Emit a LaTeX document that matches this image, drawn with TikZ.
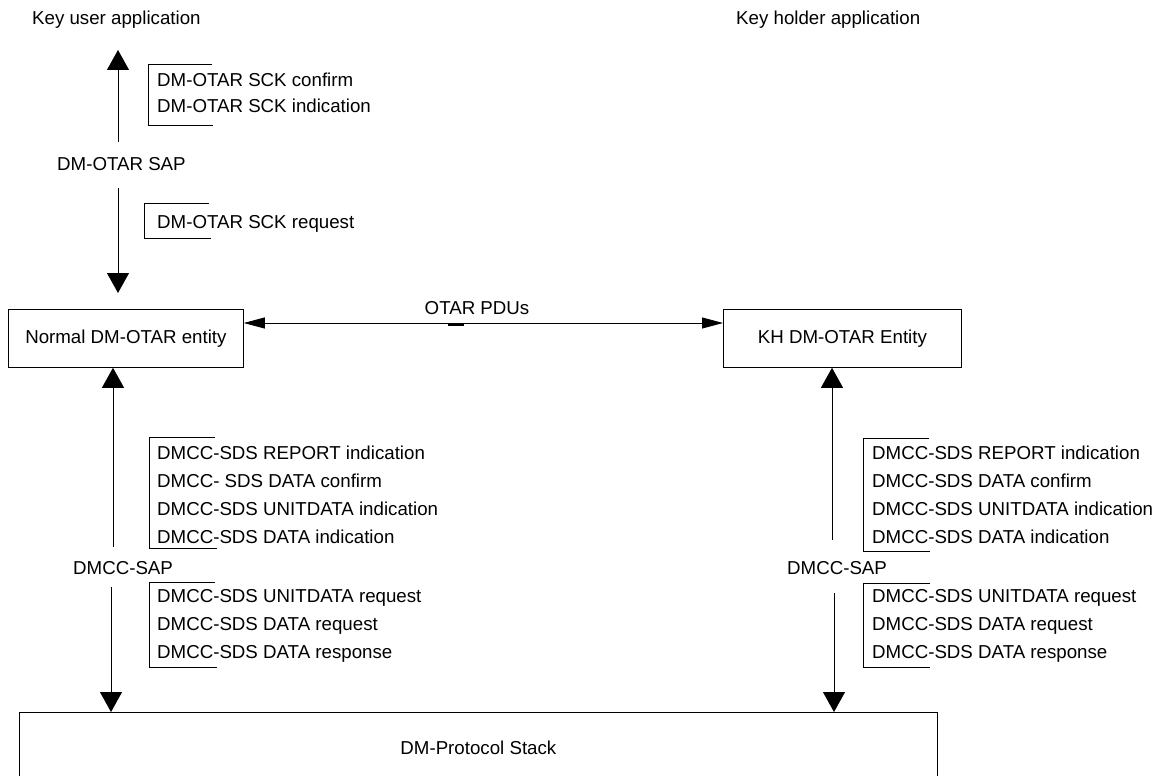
\documentclass[tikz,border=0pt]{standalone}
\usepackage{fontspec}
\setmainfont{Liberation Sans}
\usetikzlibrary{arrows.meta}
\tikzset{
  lbl/.style={font=\fontsize{18.7}{22}\selectfont, inner sep=0pt, anchor=base west},
  ctl/.style={font=\fontsize{18.7}{22}\selectfont, inner sep=0pt, anchor=base},
  entbox/.style={draw, line width=0.8pt, font=\fontsize{18.7}{22}\selectfont, inner sep=0pt, anchor=north west},
  varrow/.style={line width=0.8pt, -{Triangle[length=20pt,width=22pt]}},
  harrow/.style={line width=0.8pt, {Triangle[length=21pt,width=11pt]}-{Triangle[length=21pt,width=11pt]}},
  brk/.style={line width=0.8pt}
}
\begin{document}
\begin{tikzpicture}[x=1pt,y=-1pt]
\useasboundingbox (0,0) rectangle (1162,776);
\clip (0,0) rectangle (1162,776);

% headings
\node[lbl] (kua) at (32,25) {Key user application};
\node[lbl] (kha) at (736,25) {Key holder application};

% entity boxes
\node[entbox, minimum width=235pt, minimum height=58pt] (normal) at (8,309) {Normal DM-OTAR entity};
\node[entbox, minimum width=238pt, minimum height=58pt] (kh) at (723,309) {KH DM-OTAR Entity};
\node[entbox, minimum width=918pt, minimum height=70.6pt] (stack) at (19,712) {DM-Protocol Stack};

% DM-OTAR SAP
\node[lbl] (otarsap) at (57,170) {DM-OTAR SAP};
\coordinate (a1bot) at (118,142);
\coordinate (a1top) at (118,50);
\draw[varrow] (a1bot) -- (a1top);
\coordinate (a2top) at (118,188);
\coordinate (a2bot) at (118,293);
\draw[varrow] (a2top) -- (a2bot);

\draw[brk] (212,64) -- (148,64) -- (148,125) -- (213,125);
\node[lbl] (c1) at (157,86) {DM-OTAR SCK confirm};
\node[lbl] (c2) at (157,112) {DM-OTAR SCK indication};
\draw[brk] (209,203) -- (144,203) -- (144,238) -- (211,238);
\node[lbl] (c3) at (157,228) {DM-OTAR SCK request};

% OTAR PDUs
\coordinate (otary) at (0,323);
\draw[harrow] (normal.east |- otary) -- (kh.west |- otary);
\node[ctl] (pdus) at (477,314) {OTAR PDUs};
\fill (448,322.5) rectangle (464,326);

% left DMCC-SAP
\node[lbl] (sapL) at (73,574) {DMCC-SAP};
\coordinate (a3bot) at (113,547);
\draw[varrow] (a3bot) -- (a3bot |- normal.south);
\coordinate (a4top) at (111,587);
\draw[varrow] (a4top) -- (a4top |- stack.north);

\draw[brk] (215,437) -- (149,437) -- (149,548) -- (217,548);
\node[lbl] (l1) at (157,459) {DMCC-SDS REPORT indication};
\node[lbl] (l2) at (157,487) {DMCC- SDS DATA confirm};
\node[lbl] (l3) at (157,515) {DMCC-SDS UNITDATA indication};
\node[lbl] (l4) at (157,543) {DMCC-SDS DATA indication};
\draw[brk] (215,582) -- (149,582) -- (149,667) -- (217,667);
\node[lbl] (l5) at (157,602) {DMCC-SDS UNITDATA request};
\node[lbl] (l6) at (157,630) {DMCC-SDS DATA request};
\node[lbl] (l7) at (157,658) {DMCC-SDS DATA response};

% right DMCC-SAP
\node[lbl] (sapR) at (787,574) {DMCC-SAP};
\coordinate (a5bot) at (832,540);
\draw[varrow] (a5bot) -- (a5bot |- kh.south);
\coordinate (a6top) at (834,593);
\draw[varrow] (a6top) -- (a6top |- stack.north);

\draw[brk] (929,438) -- (863,438) -- (863,551) -- (930,551);
\node[lbl] (r1) at (872,459) {DMCC-SDS REPORT indication};
\node[lbl] (r2) at (872,487) {DMCC-SDS DATA confirm};
\node[lbl] (r3) at (872,515) {DMCC-SDS UNITDATA indication};
\node[lbl] (r4) at (872,543) {DMCC-SDS DATA indication};
\draw[brk] (930,583) -- (863,583) -- (863,667) -- (930,667);
\node[lbl] (r5) at (872,602) {DMCC-SDS UNITDATA request};
\node[lbl] (r6) at (872,630) {DMCC-SDS DATA request};
\node[lbl] (r7) at (872,658) {DMCC-SDS DATA response};
\end{tikzpicture}
\end{document}
